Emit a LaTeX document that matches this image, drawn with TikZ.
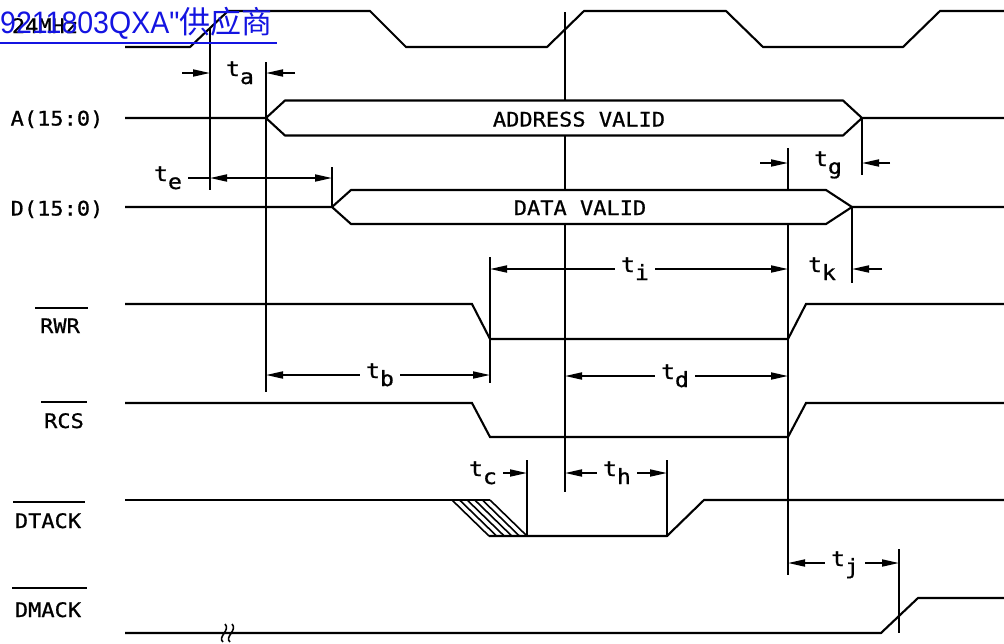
\documentclass[tikz,border=0pt]{standalone}
\usepackage{fontspec}
\usetikzlibrary{arrows.meta}
\newfontfamily\sigfont[FakeStretch=1.1,FakeBold=0.8]{DejaVu Sans Mono}
\newfontfamily\wmfont[FakeStretch=0.92,Ligatures=TeXOff]{Liberation Sans}
\newfontfamily\cjk{Noto Sans CJK SC}
\definecolor{wmblue}{RGB}{20,20,225}

\begin{document}
\begin{tikzpicture}[x=1pt, y=-1pt,
        wave/.style={line width=2.1pt, black},
        guide/.style={line width=2.1pt, black},
        hatchline/.style={line width=1.6pt, black},
        dim/.style={line width=1.8pt, -{Triangle[length=17pt,width=7pt]}},
        dimboth/.style={line width=1.8pt, {Triangle[length=17pt,width=7pt]}-{Triangle[length=17pt,width=7pt]}},
        siglbl/.style={font=\sigfont\fontsize{20}{22}\selectfont, inner sep=0pt, anchor=base},
        tlbl/.style={font=\sigfont\fontsize{21}{22}\selectfont, inner xsep=6pt, inner ysep=0pt, text height=12pt, text depth=6pt}]
            \useasboundingbox (0,0) rectangle (1004,643);

            \draw[wave] (125,47) -- (190,47) -- (228,11) -- (370,11) -- (406,47) -- (547,47) -- (584,11) -- (726,11) -- (763,47) -- (903,47) -- (940,11) -- (1004,11);

            \draw[wave] (125,118) -- (266,118) -- (285,100.5) -- (843,100.5) -- (862,118) -- (1004,118);
            \draw[wave] (266,118) -- (285,135.5) -- (843,135.5) -- (862,118);
            \draw[wave] (125,207) -- (332,207) -- (351,190) -- (826,190) -- (852,207) -- (1004,207);
            \draw[wave] (332,207) -- (351,224) -- (826,224) -- (852,207);

            \draw[wave] (125,304) -- (472,304) -- (490,339) -- (788,339) -- (806,304) -- (1004,304);
            \draw[wave] (125,403) -- (472,403) -- (490,437) -- (788,437) -- (806,403) -- (1004,403);

            \draw[wave] (125,500) -- (490,500);
            \draw[wave] (489,536) -- (667,536) -- (704,500) -- (1004,500);
            \draw[hatchline] (452,500) -- (489,536);
            \draw[hatchline] (459.6,500) -- (496.6,536);
            \draw[hatchline] (467.2,500) -- (504.2,536);
            \draw[hatchline] (474.8,500) -- (511.8,536);
            \draw[hatchline] (482.4,500) -- (519.4,536);
            \draw[hatchline] (490,500) -- (527,536);

            \draw[wave] (125,633) -- (881,633) -- (918,598) -- (1004,598);
            \draw[hatchline] (223,642) .. controls (217,637) and (231,630) .. (225,624);
            \draw[hatchline] (230,642) .. controls (224,637) and (238,630) .. (232,624);

            \draw[guide] (210,29) -- (210,190);
            \draw[guide] (266,62) -- (266,392);
            \draw[guide] (565,12) -- (565,100.5);
            \draw[guide] (565,135.5) -- (565,190);
            \draw[guide] (565,224) -- (565,492);
            \draw[guide] (332,167) -- (332,207);
            \draw[guide] (788,148) -- (788,190);
            \draw[guide] (788,224) -- (788,575);
            \draw[guide] (862,118) -- (862,175);
            \draw[guide] (852,207) -- (852,283);
            \draw[guide] (490,257) -- (490,383);
            \draw[guide] (527,460) -- (527,536);
            \draw[guide] (667,460) -- (667,536);
            \draw[guide] (899,549) -- (899,633);

            \node[siglbl] (clk) at (45,33) {24MHz};
            \node[siglbl] (abus) at (57,125.5) {A(15:0)};
            \node[siglbl] (dbus) at (57,215.5) {D(15:0)};
            \node[siglbl] (rwr) at (60,333) {RWR};
            \node[siglbl] (rcs) at (64,428) {RCS};
            \node[siglbl] (dtack) at (48,528) {DTACK};
            \node[siglbl] (dmack) at (48,617) {DMACK};
            \draw[wave] (35,308) -- (88,308);
            \draw[wave] (41,402) -- (87,402);
            \draw[wave] (13,502) -- (85,502);
            \draw[wave] (12,588) -- (87,588);

            \node[siglbl] (addr) at (579,126.5) {ADDRESS VALID};
            \node[siglbl] (data) at (580,215) {DATA VALID};

            \node[tlbl] (ta) at (240,73) {t\raisebox{-8pt}{a}};
            \draw[dim] (182,73) -- (210,73);
            \draw[dim] (295,73) -- (266,73);

            \node[tlbl] (te) at (168,178) {t\raisebox{-8pt}{e}};
            \draw[line width=1.8pt] (te.east) -- (210,178);
            \draw[dimboth] (210,178) -- (332,178);

            \node[tlbl] (tg) at (828,163) {t\raisebox{-8pt}{g}};
            \draw[dim] (760,163) -- (788,163);
            \draw[dim] (890,163) -- (862,163);

            \node[tlbl] (ti) at (635,269) {t\raisebox{-8pt}{i}};
            \draw[dim] (ti.west) -- (490,269);
            \draw[dim] (ti.east) -- (788,269);

            \node[tlbl] (tk) at (822,269) {t\raisebox{-8pt}{k}};
            \draw[dim] (882,269) -- (852,269);

            \node[tlbl] (tb) at (380,375) {t\raisebox{-8pt}{b}};
            \draw[dim] (tb.west) -- (266,375);
            \draw[dim] (tb.east) -- (490,375);

            \node[tlbl] (td) at (675,376) {t\raisebox{-8pt}{d}};
            \draw[dim] (td.west) -- (565,376);
            \draw[dim] (td.east) -- (788,376);

            \node[tlbl] (tc) at (483,473) {t\raisebox{-8pt}{c}};
            \draw[dim] (tc.east) -- (527,473);

            \node[tlbl] (th) at (617,473) {t\raisebox{-8pt}{h}};
            \draw[dim] (th.west) -- (565,473);
            \draw[dim] (th.east) -- (667,473);

            \node[tlbl] (tj) at (845,563) {t\raisebox{-8pt}{j}};
            \draw[dim] (tj.west) -- (788,563);
            \draw[dim] (tj.east) -- (899,563);

            \node[anchor=base west, inner sep=0pt, text=wmblue] (wmark) at (0,33) {\fontsize{31}{34}\selectfont\wmfont 9211803QXA"\cjk 供应商};
            \draw[wmblue, line width=2.2pt] (0,43) -- (277,43);
        \end{tikzpicture}
\end{document}
